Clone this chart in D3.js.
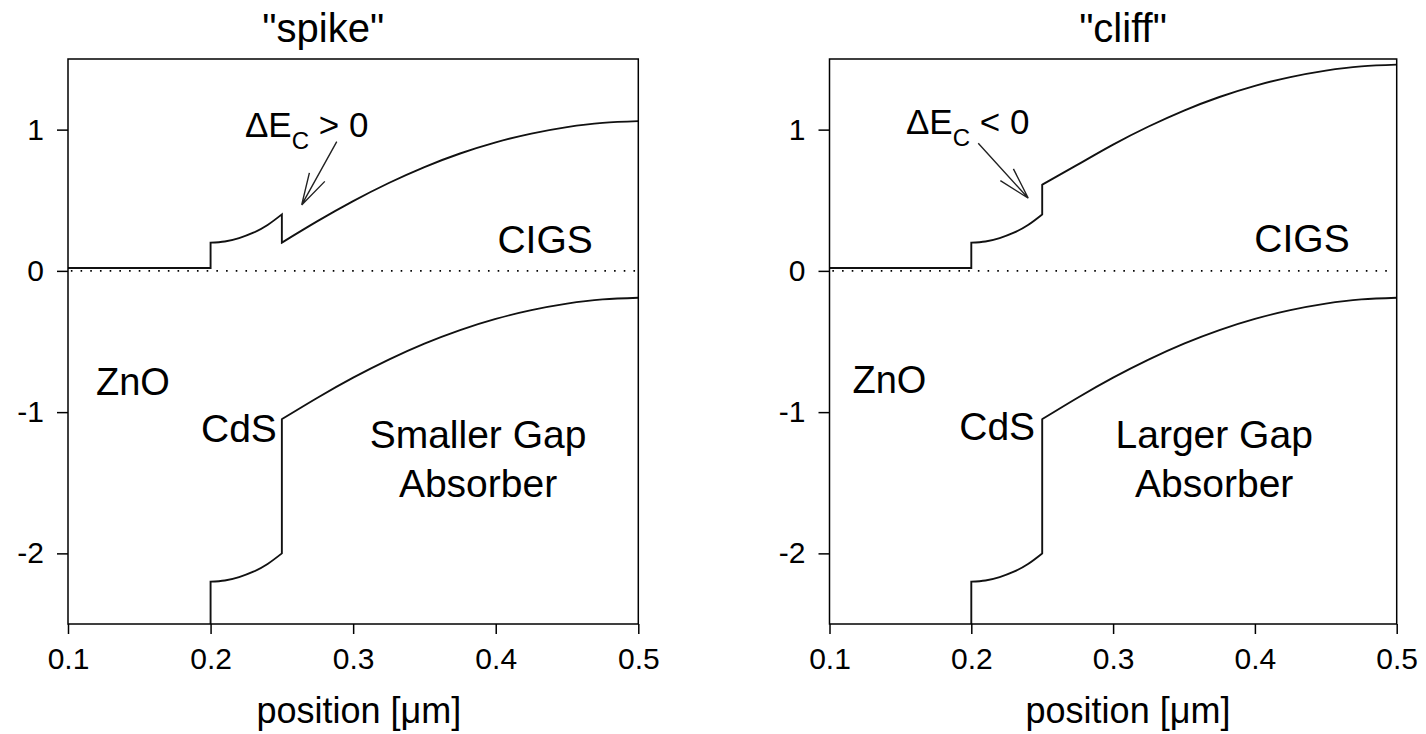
<!DOCTYPE html>
<html>
<head>
<meta charset="utf-8">
<script src="https://cdn.jsdelivr.net/npm/d3@7"></script>
<style>
  body { margin: 0; background: #fff; }
  text { font-family: "Liberation Sans", Arial, sans-serif; fill: #000; }
</style>
</head>
<body>
<svg id="chart" width="1426" height="734"></svg>
<script>
// band edges (energy in eV vs position in um)
const posZnO = [0.10, 0.20];
const cbZnO = [0.02, 0.02];
const vbZnO = [-3.28, -3.28];

const posCdS = [0.20, 0.21, 0.22, 0.23, 0.24, 0.25];
const cbCdS = [0.20, 0.208, 0.232, 0.27, 0.325, 0.40];
const vbCdS = [-2.20, -2.192, -2.168, -2.13, -2.075, -2.00];

const posCIGS = [0.25, 0.275, 0.30, 0.325, 0.35, 0.375, 0.40, 0.425, 0.45, 0.475, 0.50];
const vbCIGS = [-1.05, -0.898, -0.756, -0.628, -0.515, -0.419, -0.34, -0.278, -0.232, -0.202, -0.19];
const cbSpike = [0.20, 0.352, 0.494, 0.622, 0.735, 0.831, 0.91, 0.972, 1.018, 1.048, 1.06];
const cbCliff = [0.61, 0.752, 0.894, 1.022, 1.135, 1.231, 1.31, 1.372, 1.418, 1.448, 1.46];

const xTicks = [0.1, 0.2, 0.3, 0.4, 0.5];
const yTicks = [1, 0, -1, -2];

const svg = d3.select("#chart");
const plotTop = 59, plotBottom = 624;

const panels = [
  {
    title: '"spike"', x0: 68, x1: 638.3, titleX: 0.279, labelX: 0.304,
    cb: cbSpike, sign: ">", gap: "Smaller Gap",
    zno: [0.1196, -0.879], cds: [0.2465, -1.211], gapAt: [0.3876, -1.254],
    cigs: [0.4346, 0.127], dE: [0.2241, 0.951],
    arrow: [[0.2885, 0.915], [0.2639, 0.467]]
  },
  {
    title: '"cliff"', x0: 829.5, x1: 1396.7, titleX: 0.307, labelX: 0.3105,
    cb: cbCliff, sign: "<", gap: "Larger Gap",
    zno: [0.1162, -0.864], cds: [0.2450, -1.197], gapAt: [0.3713, -1.254],
    cigs: [0.4332, 0.134], dE: [0.1539, 0.969],
    arrow: [[0.2049, 0.903], [0.2402, 0.514]]
  }
];

function bandPath(x, y, segs) {
  return segs.map((s, i) => {
    const gen = d3.line()
      .x(d => x(d[0]))
      .y(d => y(d[1]))
      .curve(s[0].length > 2 ? d3.curveNatural : d3.curveLinear);
    const p = gen(s[0].map((v, j) => [v, s[1][j]]));
    // join segments with straight vertical steps
    return i ? p.replace(/^M/, "L") : p;
  }).join("");
}

panels.forEach((p, idx) => {
  const x = d3.scaleLinear().domain([0.1, 0.5]).range([p.x0, p.x1]);
  const y = d3.scaleLinear().domain([-2.5, 1.5]).range([plotBottom, plotTop]);
  const g = svg.append("g");

  const clipId = "clip" + idx;
  svg.append("defs").append("clipPath").attr("id", clipId)
    .append("rect")
    .attr("x", p.x0).attr("y", plotTop)
    .attr("width", p.x1 - p.x0).attr("height", plotBottom - plotTop);

  // zero reference
  g.append("line")
    .attr("x1", x(0.102)).attr("x2", x(0.498))
    .attr("y1", y(0)).attr("y2", y(0))
    .attr("stroke", "#000")
    .attr("stroke-width", 1.6)
    .attr("stroke-dasharray", "1.6 8.1");

  const bands = g.append("g").attr("clip-path", `url(#${clipId})`);
  bands.append("path")
    .attr("d", bandPath(x, y, [[posZnO, cbZnO], [posCdS, cbCdS], [posCIGS, p.cb]]))
    .attr("fill", "none").attr("stroke", "#111").attr("stroke-width", 1.9);
  bands.append("path")
    .attr("d", bandPath(x, y, [[posZnO, vbZnO], [posCdS, vbCdS], [posCIGS, vbCIGS]]))
    .attr("fill", "none").attr("stroke", "#111").attr("stroke-width", 1.9);

  // axes
  const ax = g.append("g")
    .attr("transform", `translate(0,${plotBottom})`)
    .call(d3.axisBottom(x).tickValues(xTicks).tickSize(10).tickPadding(14)
      .tickFormat(d3.format(".1f")));
  const ay = g.append("g")
    .attr("transform", `translate(${p.x0},0)`)
    .call(d3.axisLeft(y).tickValues(yTicks).tickSize(11).tickPadding(13)
      .tickFormat(d => String(d)));
  [ax, ay].forEach(a => {
    a.select(".domain").remove();
    a.selectAll(".tick line").attr("stroke", "#000").attr("stroke-width", 1.5);
    a.selectAll(".tick text").attr("font-size", 30)
      .attr("font-family", '"Liberation Sans", Arial, sans-serif').attr("fill", "#000");
  });

  g.append("rect")
    .attr("x", p.x0).attr("y", plotTop)
    .attr("width", p.x1 - p.x0).attr("height", plotBottom - plotTop)
    .attr("fill", "none").attr("stroke", "#000").attr("stroke-width", 1.5);

  // titles and labels
  g.append("text").attr("x", x(p.titleX)).attr("y", 42)
    .attr("text-anchor", "middle").attr("font-size", 40).text(p.title);
  g.append("text").attr("x", x(p.labelX)).attr("y", 723)
    .attr("text-anchor", "middle").attr("font-size", 36).text("position [μm]");

  g.append("text").attr("x", x(p.zno[0])).attr("y", y(p.zno[1]))
    .attr("font-size", 38).text("ZnO");
  g.append("text").attr("x", x(p.cds[0])).attr("y", y(p.cds[1]))
    .attr("text-anchor", "end").attr("font-size", 39).text("CdS");
  g.append("text").attr("x", x(p.gapAt[0])).attr("y", y(p.gapAt[1]))
    .attr("text-anchor", "middle").attr("font-size", 39).text(p.gap);
  g.append("text").attr("x", x(p.gapAt[0])).attr("y", y(p.gapAt[1]) + 49)
    .attr("text-anchor", "middle").attr("font-size", 39).text("Absorber");
  g.append("text").attr("x", x(p.cigs[0])).attr("y", y(p.cigs[1]))
    .attr("text-anchor", "middle").attr("font-size", 39).text("CIGS");

  const dE = g.append("text").attr("x", x(p.dE[0])).attr("y", y(p.dE[1]))
    .attr("font-size", 35);
  dE.append("tspan").text("ΔE");
  dE.append("tspan").attr("font-size", 24).attr("dy", 12).text("C");
  dE.append("tspan").attr("dy", -12).text(" " + p.sign + " 0");

  // open arrow
  const [s, t] = p.arrow.map(d => [x(d[0]), y(d[1])]);
  const ang = Math.atan2(s[1] - t[1], s[0] - t[0]);
  const len = 33, spread = 15.5 * Math.PI / 180;
  const arrowPath = d3.path();
  arrowPath.moveTo(s[0], s[1]);
  arrowPath.lineTo(t[0], t[1]);
  [-spread, spread].forEach(a => {
    arrowPath.moveTo(t[0], t[1]);
    arrowPath.lineTo(t[0] + len * Math.cos(ang + a), t[1] + len * Math.sin(ang + a));
  });
  g.append("path").attr("d", arrowPath.toString())
    .attr("fill", "none").attr("stroke", "#222").attr("stroke-width", 1.4);
});
</script>
</body>
</html>
